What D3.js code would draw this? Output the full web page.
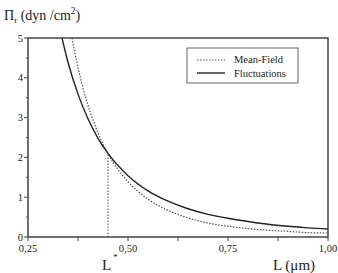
<!DOCTYPE html>
<html>
<head>
<meta charset="utf-8">
<title>Pi_r vs L</title>
<script src="https://d3js.org/d3.v7.min.js"></script>
<style>
  body { margin: 0; background: #fff; }
</style>
</head>
<body>
<div id="chart"></div>
<script>
// values
var lValues = [0.335, 0.35, 0.375, 0.40, 0.425, 0.45, 0.50, 0.55, 0.60, 0.65, 0.70, 0.75, 0.80, 0.85, 0.90, 0.95, 1.00];
var fluctuations = [5.0, 4.39, 3.59, 2.97, 2.48, 2.10, 1.54, 1.16, 0.90, 0.71, 0.57, 0.47, 0.39, 0.32, 0.27, 0.23, 0.20];

var lMean = [0.36, 0.375, 0.40, 0.425, 0.45, 0.50, 0.55, 0.60, 0.65, 0.70, 0.75, 0.80, 0.85, 0.90, 0.95, 1.00];
var meanField = [5.0, 4.26, 3.31, 2.62, 2.09, 1.39, 0.95, 0.67, 0.48, 0.35, 0.27, 0.21, 0.17, 0.14, 0.11, 0.10];

var lStar = 0.45;
var piStar = 2.09;

var xTicks = [0.25, 0.50, 0.75, 1.00];
var xMinor = [0.375, 0.625, 0.875];
var yTicks = [0, 1, 2, 3, 4, 5];
var yMinor = [0.5, 1.5, 2.5, 3.5, 4.5];

var width = 338, height = 273;
var pl = 28, pr = 328, pt = 38, pb = 237;
var serif = "'Liberation Serif', 'Times New Roman', Times, serif";

var svg = d3.select("#chart").append("svg")
    .attr("width", width)
    .attr("height", height)
    .attr("font-family", serif)
    .style("font-family", serif);

var x = d3.scaleLinear().domain([0.25, 1.0]).range([pl, pr]);
var y = d3.scaleLinear().domain([0, 5]).range([pb, pt]);

svg.append("clipPath").attr("id", "clip")
  .append("rect")
    .attr("x", pl).attr("y", pt)
    .attr("width", pr - pl).attr("height", pb - pt);

// x axis ticks (downwards)
svg.selectAll("line.xt")
  .data(xTicks.concat(xMinor))
  .enter().append("line")
    .attr("x1", d => x(d)).attr("x2", d => x(d))
    .attr("y1", pb).attr("y2", pb + 4)
    .attr("stroke", "#444").attr("stroke-width", 1);

svg.selectAll("text.xl")
  .data(xTicks)
  .enter().append("text")
    .attr("x", d => x(d))
    .attr("y", 252)
    .attr("text-anchor", "middle")
    .attr("font-size", "10.5px")
    .attr("fill", "#222")
    .text(d => d3.format(".2f")(d).replace(".", ","));

// y axis ticks (left)
svg.selectAll("line.yt")
  .data(yTicks)
  .enter().append("line")
    .attr("x1", pl - 4).attr("x2", pl)
    .attr("y1", d => y(d)).attr("y2", d => y(d))
    .attr("stroke", "#444").attr("stroke-width", 1);

svg.selectAll("line.ym")
  .data(yMinor)
  .enter().append("line")
    .attr("x1", pl - 2).attr("x2", pl)
    .attr("y1", d => y(d)).attr("y2", d => y(d))
    .attr("stroke", "#444").attr("stroke-width", 1);

svg.selectAll("text.yl")
  .data(yTicks)
  .enter().append("text")
    .attr("x", pl - 5)
    .attr("y", d => y(d) + 3.5)
    .attr("text-anchor", "end")
    .attr("font-size", "10.5px")
    .attr("fill", "#222")
    .text(d => d);

// curves
var line = d3.line().x(d => x(d[0])).y(d => y(d[1])).curve(d3.curveMonotoneX);
var g = svg.append("g").attr("clip-path", "url(#clip)");

g.append("path")
    .datum(lMean.map((l, i) => [l, meanField[i]]))
    .attr("d", line)
    .attr("fill", "none")
    .attr("stroke", "#555")
    .attr("stroke-width", 1.2)
    .attr("stroke-dasharray", "1.5,1.5");

g.append("path")
    .datum(lValues.map((l, i) => [l, fluctuations[i]]))
    .attr("d", line)
    .attr("fill", "none")
    .attr("stroke", "#222")
    .attr("stroke-width", 1.4);

// L* marker
svg.append("line")
    .attr("x1", x(lStar)).attr("x2", x(lStar))
    .attr("y1", pb).attr("y2", y(piStar))
    .attr("stroke", "#555").attr("stroke-width", 1.1)
    .attr("stroke-dasharray", "1.5,1.5");

// frame
svg.append("rect")
    .attr("x", pl).attr("y", pt)
    .attr("width", pr - pl).attr("height", pb - pt)
    .attr("fill", "none")
    .attr("stroke", "#444")
    .attr("stroke-width", 1.5);

// legend
var lg = svg.append("g");
lg.append("rect")
    .attr("x", 187).attr("y", 48).attr("width", 111).attr("height", 35)
    .attr("fill", "#fff").attr("stroke", "#666").attr("stroke-width", 1);
lg.append("line")
    .attr("x1", 197).attr("x2", 225).attr("y1", 60).attr("y2", 60)
    .attr("stroke", "#555").attr("stroke-width", 1.1).attr("stroke-dasharray", "1.5,1.5");
lg.append("line")
    .attr("x1", 197).attr("x2", 225).attr("y1", 73).attr("y2", 73)
    .attr("stroke", "#222").attr("stroke-width", 1.4);
lg.append("text").attr("x", 234).attr("y", 63).attr("font-size", "10.5px").attr("fill", "#222").text("Mean-Field");
lg.append("text").attr("x", 234).attr("y", 76.5).attr("font-size", "10.5px").attr("fill", "#222").text("Fluctuations");

// titles
var yt = svg.append("text").attr("x", 4).attr("y", 20).attr("font-size", "14px").attr("fill", "#222");
yt.append("tspan").text("\u03A0");
yt.append("tspan").attr("font-size", "9px").attr("dy", 3).text("r");
yt.append("tspan").attr("dy", -3).text(" (dyn /cm");
yt.append("tspan").attr("font-size", "9.5px").attr("dy", -6).text("2");
yt.append("tspan").attr("dy", 6).text(")");

var ls = svg.append("text").attr("x", 102).attr("y", 270).attr("font-size", "15px").attr("fill", "#222");
ls.append("tspan").text("L");
ls.append("tspan").attr("font-size", "9px").attr("dy", -10).attr("dx", 2).text("*");

svg.append("text").attr("x", 273).attr("y", 270).attr("font-size", "15px").attr("fill", "#222").text("L (\u03BCm)");
</script>
</body>
</html>
